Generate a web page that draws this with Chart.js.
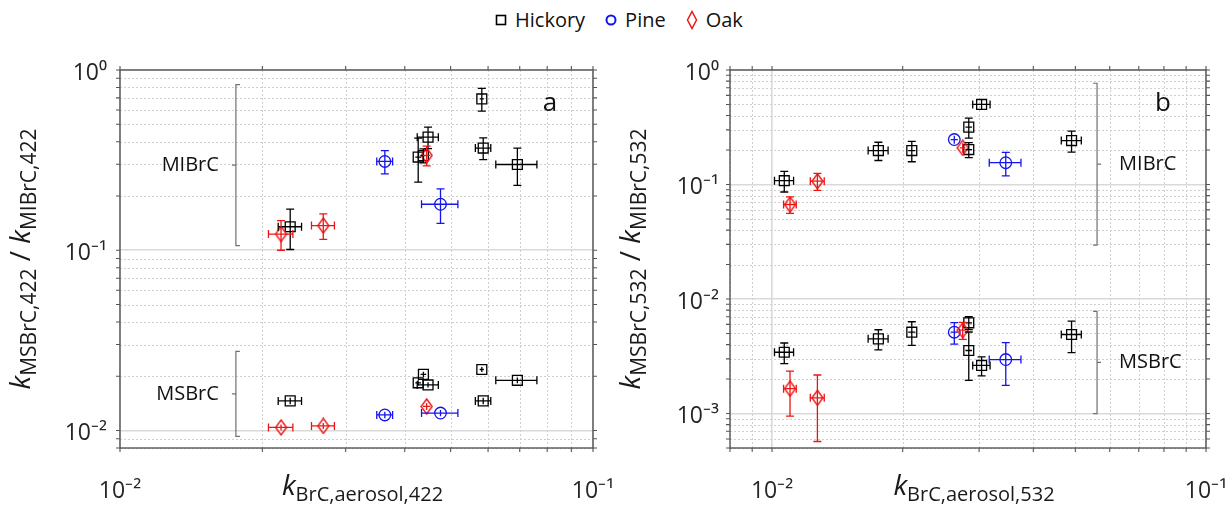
<!DOCTYPE html>
<html>
<head>
<meta charset="utf-8">
<script src="https://cdn.jsdelivr.net/npm/chart.js@4.4.1/dist/chart.umd.min.js"></script>
<style>
  html, body { margin: 0; padding: 0; background: #fff; }
  body { width: 1228px; height: 506px; position: relative; overflow: hidden; font-family: 'Open Sans', sans-serif; }
  .panel { position: absolute; top: 0; }
  #legend { position: absolute; top: 6px; left: 495px; display: flex; align-items: center; font-size: 20px; color: #111; white-space: nowrap; }
  #legend .item { display: flex; align-items: center; margin-right: 20px; }
  #legend svg { margin-right: 8px; }
</style>
</head>
<body>
<div id="legend"></div>
<canvas id="panelA" class="panel" width="614" height="506" style="left:0"></canvas>
<canvas id="panelB" class="panel" width="614" height="506" style="left:614px"></canvas>
<script>
// ---- series ----
const seriesNames = ['Hickory', 'Pine', 'Oak'];
const seriesColors = ['#000000', '#1414ee', '#ee1414'];

// ---- 422 nm (panel a) ----
const x422Hickory    = [0.0229, 0.0427, 0.0438, 0.0448, 0.0582, 0.0586, 0.0692];
const x422HickoryErr = [0.0013, 0.0006, 0.0006, 0.0023, 0.0006, 0.0022, 0.0069];
const mi422Hickory    = [0.135, 0.329, 0.335, 0.424, 0.691, 0.369, 0.299];
const mi422HickoryErr = [0.034, 0.090, 0.030, 0.058, 0.100, 0.051, 0.070];
const ms422Hickory    = [0.0146, 0.0184, 0.0205, 0.0179, 0.0218, 0.0146, 0.0190];
const ms422HickoryErr = [0.0006, 0.0006, 0.0007, 0.0006, 0.0007, 0.0006, 0.0007];

const x422Pine    = [0.0363, 0.0476];
const x422PineErr = [0.0014, 0.0042];
const mi422Pine    = [0.311, 0.180];
const mi422PineErr = [0.046, 0.039];
const ms422Pine    = [0.0122, 0.0125];
const ms422PineErr = [0.0005, 0.0005];

const x422Oak    = [0.0219, 0.0269, 0.0445];
const x422OakErr = [0.0013, 0.0015, 0.0008];
const mi422Oak    = [0.123, 0.137, 0.336];
const mi422OakErr = [0.023, 0.022, 0.042];
const ms422Oak    = [0.0104, 0.0106, 0.0136];
const ms422OakErr = [0.0004, 0.0004, 0.0006];

// ---- 532 nm (panel b) ----
const x532Hickory    = [0.01067, 0.01758, 0.02099, 0.0284, 0.0284, 0.0304, 0.0490];
const x532HickoryErr = [0.00054, 0.00093, 0.0004, 0.0005, 0.0005, 0.0014, 0.0026];
const mi532Hickory    = [0.108, 0.198, 0.198, 0.317, 0.202, 0.500, 0.242];
const mi532HickoryErr = [0.022, 0.036, 0.040, 0.063, 0.030, 0.050, 0.050];
const ms532Hickory    = [0.00343, 0.00449, 0.00513, 0.0062, 0.00355, 0.00263, 0.0049];
const ms532HickoryErr = [0.0007, 0.0009, 0.0012, 0.0008, 0.0016, 0.0005, 0.0015];

const x532Pine    = [0.0263, 0.03456];
const x532PineErr = [0.0005, 0.0029];
const mi532Pine    = [0.247, 0.155];
const mi532PineErr = [0.020, 0.036];
const ms532Pine    = [0.00513, 0.00296];
const ms532PineErr = [0.0011, 0.0012];

const x532Oak    = [0.0110, 0.01272, 0.0275];
const x532OakErr = [0.00037, 0.00047, 0.0004];
const mi532Oak    = [0.0669, 0.1069, 0.209];
const mi532OakErr = [0.011, 0.018, 0.020];
const ms532Oak    = [0.00165, 0.00137, 0.00534];
const ms532OakErr = [0.0007, 0.0008, 0.0009];

// ---- axes: ranges and decade labels ----
const range422X = [0.01, 0.1];
const range422Y = [0.008, 1];
const range532X = [0.008, 0.1];
const range532Y = [0.0005, 1];
const decadesX = [0.01, 0.1];
const decadeLabelsX = ['10⁻²', '10⁻¹'];
const decades422Y = [0.01, 0.1, 1];
const decadeLabels422Y = ['10⁻²', '10⁻¹', '10⁰'];
const decades532Y = [0.001, 0.01, 0.1, 1];
const decadeLabels532Y = ['10⁻³', '10⁻²', '10⁻¹', '10⁰'];

// bracket spans [low, high] in y units, at a fixed x value
const brackets422 = { x: 0.01758, mi: [0.106, 0.83], ms: [0.00927, 0.0275] };
const brackets532 = { x: 0.0561, mi: [0.0296, 0.766], ms: [0.001, 0.00781] };

const FONT = "'Open Sans', sans-serif";

function isDecade(v) {
    const l = Math.log10(v);
    return Math.abs(l - Math.round(l)) < 1e-6;
}

function logTicks(min, max) {
    const out = [];
    for (let e = Math.floor(Math.log10(min)); e <= Math.ceil(Math.log10(max)); e++) {
        for (let m = 1; m < 10; m++) {
            const v = m * Math.pow(10, e);
            if (v >= min * 0.999 && v <= max * 1.001) out.push({ value: v });
        }
    }
    return out;
}

function labelFor(values, labels) {
    return function (v) {
        for (let i = 0; i < values.length; i++) {
            if (Math.abs(v / values[i] - 1) < 1e-6) return labels[i];
        }
        return '';
    };
}

function pts(xs, ys) {
    return xs.map(function (x, i) { return { x: x, y: ys[i] }; });
}

// tall open diamond used for oak
function diamondStyle(color) {
    const c = document.createElement('canvas');
    c.width = 13; c.height = 17;
    const g = c.getContext('2d');
    g.strokeStyle = color; g.lineWidth = 1.4;
    g.beginPath();
    g.moveTo(6.5, 1); g.lineTo(12, 8.5); g.lineTo(6.5, 16); g.lineTo(1, 8.5);
    g.closePath(); g.stroke();
    return c;
}

function series(idx, style, radius, xs, xErr, mi, miErr, ms, msErr) {
    return {
        label: seriesNames[idx],
        data: pts(xs, mi).concat(pts(xs, ms)),
        errX: xErr.concat(xErr),
        errY: miErr.concat(msErr),
        borderColor: seriesColors[idx],
        backgroundColor: 'rgba(0,0,0,0)',
        pointStyle: style,
        pointRadius: radius,
        pointHoverRadius: radius,
        pointBorderWidth: 1.3,
        order: 3 - idx
    };
}

// ── Gambar garis bantu minor, error bar, bingkai, kurung dan judul sumbu ──
const panelDecor = {
    id: 'panelDecor',
    beforeDatasetsDraw: function (chart) {
        const ctx = chart.ctx, a = chart.chartArea, xs = chart.scales.x, ys = chart.scales.y;
        ctx.save();
        ctx.strokeStyle = '#cfcfcf';
        ctx.lineWidth = 1;
        ctx.setLineDash([2, 2]);
        ctx.beginPath();
        xs.ticks.forEach(function (t) {
            if (isDecade(t.value)) return;
            const px = Math.round(xs.getPixelForValue(t.value)) + 0.5;
            ctx.moveTo(px, a.top); ctx.lineTo(px, a.bottom);
        });
        ys.ticks.forEach(function (t) {
            if (isDecade(t.value)) return;
            const py = Math.round(ys.getPixelForValue(t.value)) + 0.5;
            ctx.moveTo(a.left, py); ctx.lineTo(a.right, py);
        });
        ctx.stroke();
        ctx.restore();
    },
    afterDatasetsDraw: function (chart) {
        const ctx = chart.ctx, xs = chart.scales.x, ys = chart.scales.y;
        ctx.save();
        ctx.lineWidth = 1.3;
        chart.data.datasets.forEach(function (ds) {
            ctx.strokeStyle = ds.borderColor;
            ds.data.forEach(function (p, i) {
                const px = xs.getPixelForValue(p.x), py = ys.getPixelForValue(p.y);
                const top = ys.getPixelForValue(p.y + ds.errY[i]);
                const bot = ys.getPixelForValue(p.y - ds.errY[i]);
                const lft = xs.getPixelForValue(p.x - ds.errX[i]);
                const rgt = xs.getPixelForValue(p.x + ds.errX[i]);
                ctx.beginPath();
                ctx.moveTo(px, top); ctx.lineTo(px, bot);
                ctx.moveTo(lft, py); ctx.lineTo(rgt, py);
                if (py - top > 6) { ctx.moveTo(px - 4, top); ctx.lineTo(px + 4, top); }
                if (bot - py > 6) { ctx.moveTo(px - 4, bot); ctx.lineTo(px + 4, bot); }
                if (px - lft > 6) { ctx.moveTo(lft, py - 4); ctx.lineTo(lft, py + 4); }
                if (rgt - px > 6) { ctx.moveTo(rgt, py - 4); ctx.lineTo(rgt, py + 4); }
                ctx.stroke();
            });
        });
        ctx.restore();
    },
    afterDraw: function (chart, args, opts) {
        const ctx = chart.ctx, a = chart.chartArea, xs = chart.scales.x, ys = chart.scales.y;
        ctx.save();

        // frame with outward ticks on all four sides
        ctx.strokeStyle = '#555555';
        ctx.lineWidth = 1.4;
        ctx.strokeRect(a.left, a.top, a.right - a.left, a.bottom - a.top);
        ctx.lineWidth = 1.1;
        ctx.beginPath();
        xs.ticks.forEach(function (t) {
            const px = xs.getPixelForValue(t.value);
            ctx.moveTo(px, a.bottom); ctx.lineTo(px, a.bottom + 4);
            ctx.moveTo(px, a.top); ctx.lineTo(px, a.top - 4);
        });
        ys.ticks.forEach(function (t) {
            const py = ys.getPixelForValue(t.value);
            ctx.moveTo(a.left, py); ctx.lineTo(a.left - 4, py);
            ctx.moveTo(a.right, py); ctx.lineTo(a.right + 4, py);
        });
        ctx.stroke();

        // group brackets
        const b = opts.brackets;
        const bx = xs.getPixelForValue(b.x);
        const dir = opts.bracketSide === 'left' ? 1 : -1;
        ctx.strokeStyle = '#707070';
        ctx.lineWidth = 1.2;
        ctx.fillStyle = '#111';
        ctx.font = '20px ' + FONT;
        ctx.textBaseline = 'middle';
        [['MIBrC', b.mi], ['MSBrC', b.ms]].forEach(function (g) {
            const y0 = ys.getPixelForValue(g[1][1]), y1 = ys.getPixelForValue(g[1][0]);
            const ym = (y0 + y1) / 2;
            ctx.beginPath();
            ctx.moveTo(bx + 4 * dir, y0); ctx.lineTo(bx, y0); ctx.lineTo(bx, y1); ctx.lineTo(bx + 4 * dir, y1);
            ctx.moveTo(bx, ym); ctx.lineTo(bx - 4 * dir, ym);
            ctx.stroke();
            if (dir > 0) { ctx.textAlign = 'right'; ctx.fillText(g[0], bx - 17, ym); }
            else { ctx.textAlign = 'left'; ctx.fillText(g[0], bx + 22, ym); }
        });

        // panel letter
        ctx.font = '26px ' + FONT;
        ctx.textAlign = 'center';
        ctx.textBaseline = 'alphabetic';
        ctx.fillText(opts.letter, a.right - 43, a.top + 41);

        // axis titles, k with subscripts
        ctx.fillStyle = '#1a1a1a';
        const xParts = [['k', 'italic 28px ' + FONT, 0], [opts.xSub, '20px ' + FONT, 6]];
        drawParts(ctx, xParts, (a.left + a.right) / 2 + 6, a.bottom + 47, 0);
        const yParts = [['k', 'italic 28px ' + FONT, 0], [opts.ySub[0], '21px ' + FONT, 6],
                        [' / ', '28px ' + FONT, 0], ['k', 'italic 28px ' + FONT, 0], [opts.ySub[1], '21px ' + FONT, 6]];
        drawParts(ctx, yParts, a.left - 100, (a.top + a.bottom) / 2, -Math.PI / 2);
        ctx.restore();
    }
};

function drawParts(ctx, parts, cx, cy, angle) {
    let total = 0;
    parts.forEach(function (p) { ctx.font = p[1]; total += ctx.measureText(p[0]).width; });
    ctx.save();
    ctx.translate(cx, cy);
    ctx.rotate(angle);
    ctx.textAlign = 'left';
    ctx.textBaseline = 'alphabetic';
    let x = -total / 2;
    const base = angle ? 10 : 0;
    parts.forEach(function (p) {
        ctx.font = p[1];
        ctx.fillText(p[0], x, base + p[2]);
        x += ctx.measureText(p[0]).width;
    });
    ctx.restore();
}

function makePanel(id, cfg) {
    const xr = cfg.xRange, yr = cfg.yRange;
    return new Chart(document.getElementById(id).getContext('2d'), {
        type: 'scatter',
        data: { datasets: cfg.datasets },
        options: {
            responsive: false,
            maintainAspectRatio: false,
            animation: false,
            events: [],
            layout: { padding: { top: 70, right: cfg.padRight, bottom: 0, left: 0 } },
            plugins: {
                legend: { display: false },
                tooltip: { enabled: false },
                panelDecor: cfg.decor
            },
            scales: {
                x: {
                    type: 'logarithmic', min: xr[0], max: xr[1],
                    afterBuildTicks: function (s) { s.ticks = logTicks(xr[0], xr[1]); },
                    afterFit: function (s) { s.height = 58; s.paddingLeft = 0; s.paddingRight = 0; },
                    border: { display: false },
                    grid: {
                        drawTicks: false, lineWidth: 1.6,
                        color: function (c) { return c.tick && isDecade(c.tick.value) ? '#d9d9d9' : 'rgba(0,0,0,0)'; }
                    },
                    ticks: {
                        autoSkip: false, maxRotation: 0, padding: 30, color: '#262626',
                        font: { family: FONT, size: 23 },
                        callback: labelFor(decadesX, decadeLabelsX)
                    }
                },
                y: {
                    type: 'logarithmic', min: yr[0], max: yr[1],
                    afterBuildTicks: function (s) { s.ticks = logTicks(yr[0], yr[1]); },
                    afterFit: function (s) { s.width = cfg.yWidth; s.paddingTop = 0; s.paddingBottom = 0; },
                    border: { display: false },
                    grid: {
                        drawTicks: false, lineWidth: 1.6,
                        color: function (c) { return c.tick && isDecade(c.tick.value) ? '#d9d9d9' : 'rgba(0,0,0,0)'; }
                    },
                    ticks: {
                        autoSkip: false, padding: cfg.yPad, labelOffset: 3, color: '#262626',
                        font: { family: FONT, size: 23 },
                        callback: labelFor(cfg.yDecades, cfg.yLabels)
                    }
                }
            }
        },
        plugins: [panelDecor]
    });
}

const oakStyle = diamondStyle(seriesColors[2]);

makePanel('panelA', {
    xRange: range422X, yRange: range422Y, yWidth: 120, yPad: 13, padRight: 21,
    yDecades: decades422Y, yLabels: decadeLabels422Y,
    datasets: [
        series(0, 'rect', 7, x422Hickory, x422HickoryErr, mi422Hickory, mi422HickoryErr, ms422Hickory, ms422HickoryErr),
        series(1, 'circle', 5.8, x422Pine, x422PineErr, mi422Pine, mi422PineErr, ms422Pine, ms422PineErr),
        series(2, oakStyle, 7, x422Oak, x422OakErr, mi422Oak, mi422OakErr, ms422Oak, ms422OakErr)
    ],
    decor: { letter: 'a', brackets: brackets422, bracketSide: 'left', xSub: 'BrC,aerosol,422', ySub: ['MSBrC,422', 'MIBrC,422'] }
});

makePanel('panelB', {
    xRange: range532X, yRange: range532Y, yWidth: 116, yPad: 11, padRight: 22,
    yDecades: decades532Y, yLabels: decadeLabels532Y,
    datasets: [
        series(0, 'rect', 7, x532Hickory, x532HickoryErr, mi532Hickory, mi532HickoryErr, ms532Hickory, ms532HickoryErr),
        series(1, 'circle', 5.8, x532Pine, x532PineErr, mi532Pine, mi532PineErr, ms532Pine, ms532PineErr),
        series(2, oakStyle, 7, x532Oak, x532OakErr, mi532Oak, mi532OakErr, ms532Oak, ms532OakErr)
    ],
    decor: { letter: 'b', brackets: brackets532, bracketSide: 'right', xSub: 'BrC,aerosol,532', ySub: ['MSBrC,532', 'MIBrC,532'] }
});

// ── Legenda bersama di atas kedua panel ──
const markerSvg = [
    '<svg width="12" height="12"><rect x="1.5" y="1.5" width="9" height="9" fill="none" stroke="COLOR" stroke-width="1.6"/></svg>',
    '<svg width="12" height="12"><circle cx="6" cy="6" r="4.5" fill="none" stroke="COLOR" stroke-width="2"/></svg>',
    '<svg width="12" height="20"><polygon points="6,1.5 10.5,10 6,18.5 1.5,10" fill="none" stroke="COLOR" stroke-width="1.5"/></svg>'
];
const legendEl = document.getElementById('legend');
seriesNames.forEach(function (name, i) {
    const item = document.createElement('span');
    item.className = 'item';
    item.innerHTML = markerSvg[i].replace('COLOR', seriesColors[i]) + '<span>' + name + '</span>';
    legendEl.appendChild(item);
});
</script>
</body>
</html>
